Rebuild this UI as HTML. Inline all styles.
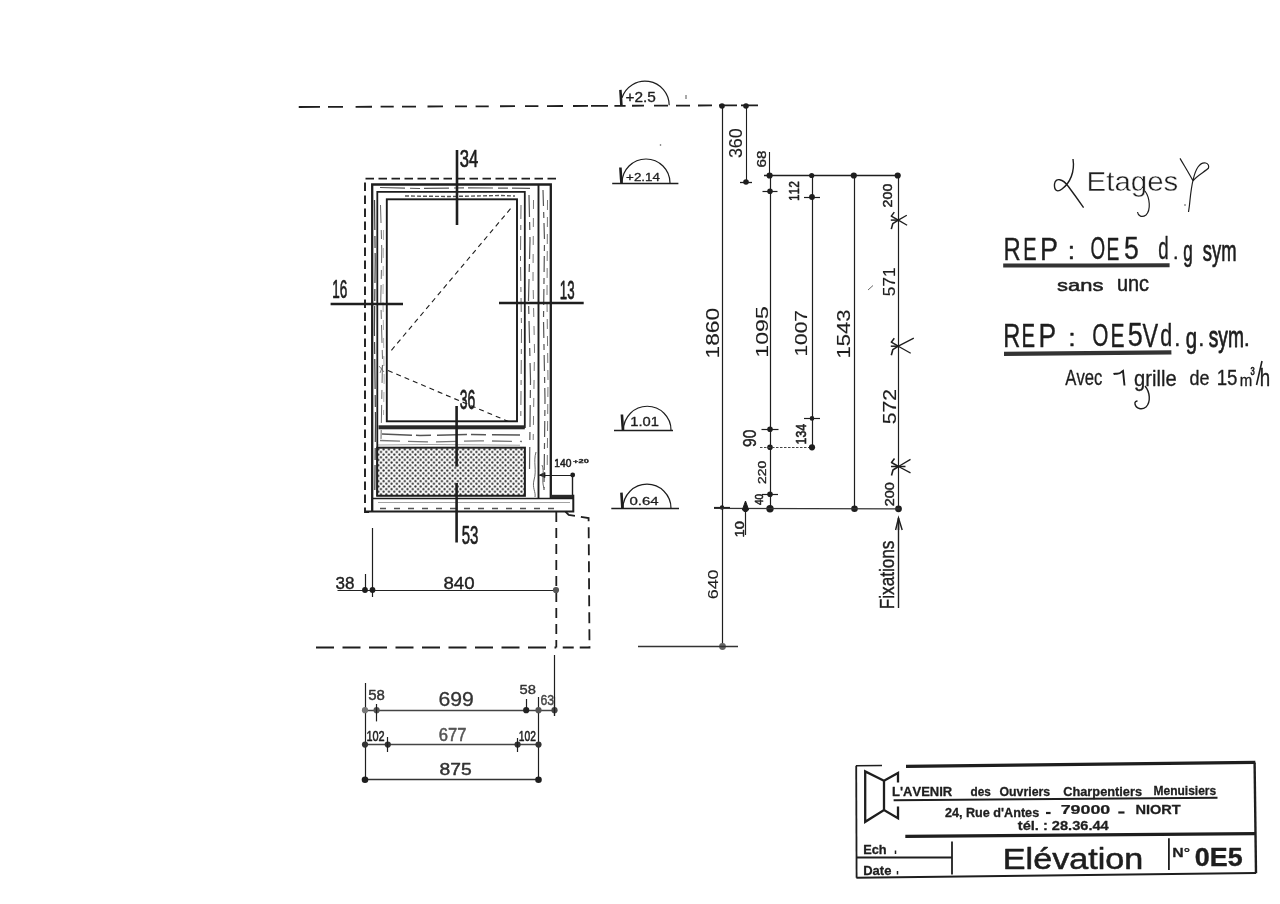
<!DOCTYPE html>
<html><head><meta charset="utf-8"><style>
html,body{margin:0;padding:0;background:#fff;overflow:hidden;}
svg{display:block;}
text{font-kerning:none;}
</style></head><body>
<svg width="1280" height="904" viewBox="0 0 1280 904">
<rect width="1280" height="904" fill="#fff"/>
<g style="opacity:0.999">
<path d="M298.75,107.00 L320,106.92 M328,106.89 L343,106.84 M355.6,106.79 L372,106.73 M380.6,106.70 L393.75,106.65 M402,106.62 L416,106.57 M427.5,106.52 L443,106.47 M455,106.42 L467,106.38 M475.6,106.34 L488.75,106.30 M500,106.25 L515,106.20 M525,106.16 L538.4,106.11 M547,106.08 L563,106.02 M573,105.98 L588,105.93 M591,105.92 L608,105.85 M614.4,105.83 L625.6,105.79 M632,105.76 L644,105.72 M654,105.68 L668,105.63 M676,105.60 L690,105.55 M698,105.52 L712,105.47 M719,105.44 L737,105.37 M741,105.36 L758,105.30 " stroke="#1e1e1e" stroke-width="1.8" fill="none" />
<path d="M620.4,89.8 L621.4,105.3" stroke="#1e1e1e" stroke-width="2.6" fill="none" />
<path d="M622.00,97.77 A24.2,24.2 0 0 1 669.2,105.3" stroke="#1e1e1e" stroke-width="1.2" fill="none" />
<text transform="translate(625.42,102.09) scale(0.1543,0.1377)" font-family="Liberation Sans" font-size="100" font-weight="normal" fill="#1e1e1e" stroke="#1e1e1e" stroke-width="0.35" vector-effect="non-scaling-stroke" stroke-linejoin="round">+2.5</text>
<line x1="612.2" y1="183.5" x2="678.4" y2="183.5" stroke="#1e1e1e" stroke-width="1.4" />
<path d="M620.4,167.5 L621.4,183" stroke="#1e1e1e" stroke-width="2.6" fill="none" />
<path d="M622.00,183.00 A24,24 0 0 1 670,183" stroke="#1e1e1e" stroke-width="1.2" fill="none" />
<text transform="translate(626.12,180.62) scale(0.1336,0.1182)" font-family="Liberation Sans" font-size="100" font-weight="normal" fill="#1e1e1e" stroke="#1e1e1e" stroke-width="0.35" vector-effect="non-scaling-stroke" stroke-linejoin="round">+2.14</text>
<line x1="614" y1="430.5" x2="673" y2="430.5" stroke="#1e1e1e" stroke-width="1.4" />
<path d="M621.9,414.5 L622.9,430" stroke="#1e1e1e" stroke-width="2.6" fill="none" />
<path d="M623.50,430.00 A23.5,23.5 0 0 1 671.0,430" stroke="#1e1e1e" stroke-width="1.2" fill="none" />
<text transform="translate(630.25,425.69) scale(0.1474,0.1363)" font-family="Liberation Sans" font-size="100" font-weight="normal" fill="#1e1e1e" stroke="#1e1e1e" stroke-width="0.35" vector-effect="non-scaling-stroke" stroke-linejoin="round">1.01</text>
<line x1="611.3" y1="508.5" x2="679" y2="508.5" stroke="#1e1e1e" stroke-width="1.4" />
<path d="M621.4,492.7 L622.4,508.2" stroke="#1e1e1e" stroke-width="2.6" fill="none" />
<path d="M623.00,508.20 A24,24 0 0 1 671,508.2" stroke="#1e1e1e" stroke-width="1.2" fill="none" />
<text transform="translate(629.49,504.71) scale(0.1499,0.1179)" font-family="Liberation Sans" font-size="100" font-weight="normal" fill="#1e1e1e" stroke="#1e1e1e" stroke-width="0.35" vector-effect="non-scaling-stroke" stroke-linejoin="round">0.64</text>
<line x1="722.5" y1="106" x2="722.5" y2="646" stroke="#1e1e1e" stroke-width="1.2" />
<circle cx="722" cy="106" r="2.8" fill="#1e1e1e"/>
<line x1="714" y1="507.5" x2="730" y2="507.5" stroke="#1e1e1e" stroke-width="1.2" />
<circle cx="722" cy="507.5" r="2.2" fill="#1e1e1e"/>
<circle cx="722.5" cy="646.5" r="3.4" fill="#666"/>
<line x1="638" y1="646.5" x2="738" y2="646.5" stroke="#333" stroke-width="1.3" />
<text transform="translate(718.75,358.46) rotate(-90) scale(0.2273,0.1815)" font-family="Liberation Sans" font-size="100" font-weight="normal" fill="#1e1e1e" stroke="#1e1e1e" stroke-width="0.15" vector-effect="non-scaling-stroke" stroke-linejoin="round">1860</text>
<text transform="translate(718.39,599.34) rotate(-90) scale(0.1796,0.1419)" font-family="Liberation Sans" font-size="100" font-weight="normal" fill="#1e1e1e" stroke="#1e1e1e" stroke-width="0.15" vector-effect="non-scaling-stroke" stroke-linejoin="round">640</text>
<line x1="746.5" y1="106" x2="746.5" y2="182" stroke="#1e1e1e" stroke-width="1.1" />
<circle cx="746" cy="106" r="2.8" fill="#1e1e1e"/>
<circle cx="746" cy="182" r="2.8" fill="#1e1e1e"/>
<line x1="740" y1="182.5" x2="752" y2="182.5" stroke="#1e1e1e" stroke-width="1.3" />
<text transform="translate(742.25,158.11) rotate(-90) scale(0.1797,0.1744)" font-family="Liberation Sans" font-size="100" font-weight="normal" fill="#1e1e1e" stroke="#1e1e1e" stroke-width="0.15" vector-effect="non-scaling-stroke" stroke-linejoin="round">360</text>
<line x1="764" y1="175.5" x2="900" y2="175.5" stroke="#1e1e1e" stroke-width="1.3" />
<circle cx="769.6" cy="175.5" r="3.1" fill="#1e1e1e"/>
<circle cx="853.8" cy="175.5" r="3.1" fill="#1e1e1e"/>
<circle cx="897.7" cy="175.5" r="3.1" fill="#1e1e1e"/>
<circle cx="811.7" cy="175.5" r="2.6" fill="#1e1e1e"/>
<line x1="769.5" y1="152" x2="769.5" y2="175.5" stroke="#1e1e1e" stroke-width="1.1" />
<text transform="translate(766.08,167.58) rotate(-90) scale(0.1532,0.1271)" font-family="Liberation Sans" font-size="100" font-weight="normal" fill="#1e1e1e" stroke="#1e1e1e" stroke-width="0.4" vector-effect="non-scaling-stroke" stroke-linejoin="round">68</text>
<line x1="770.5" y1="175.5" x2="770.5" y2="508.8" stroke="#1e1e1e" stroke-width="1.2" />
<line x1="762.5" y1="191.5" x2="777.5" y2="191.5" stroke="#1e1e1e" stroke-width="1.2" />
<circle cx="770" cy="191.3" r="2.8" fill="#1e1e1e"/>
<line x1="761.5" y1="429.5" x2="778.5" y2="429.5" stroke="#1e1e1e" stroke-width="1.2" />
<circle cx="770" cy="429.2" r="2.8" fill="#1e1e1e"/>
<line x1="762" y1="494.5" x2="778" y2="494.5" stroke="#1e1e1e" stroke-width="1.2" />
<circle cx="770" cy="494.2" r="2.8" fill="#1e1e1e"/>
<circle cx="770" cy="447.3" r="2.8" fill="#1e1e1e"/>
<circle cx="770" cy="508.8" r="3.7" fill="#1e1e1e"/>
<line x1="760" y1="447.5" x2="812" y2="447.5" stroke="#444" stroke-width="1.0" stroke-dasharray="2.5 1.5" />
<text transform="translate(767.76,357.69) rotate(-90) scale(0.2319,0.1674)" font-family="Liberation Sans" font-size="100" font-weight="normal" fill="#1e1e1e" stroke="#1e1e1e" stroke-width="0.15" vector-effect="non-scaling-stroke" stroke-linejoin="round">1095</text>
<text transform="translate(755.63,446.93) rotate(-90) scale(0.1559,0.1780)" font-family="Liberation Sans" font-size="100" font-weight="normal" fill="#1e1e1e" stroke="#1e1e1e" stroke-width="0.4" vector-effect="non-scaling-stroke" stroke-linejoin="round">90</text>
<text transform="translate(765.89,483.90) rotate(-90) scale(0.1393,0.1158)" font-family="Liberation Sans" font-size="100" font-weight="normal" fill="#1e1e1e" stroke="#1e1e1e" stroke-width="0.4" vector-effect="non-scaling-stroke" stroke-linejoin="round">220</text>
<text transform="translate(762.59,504.93) rotate(-90) scale(0.0990,0.1116)" font-family="Liberation Sans" font-size="100" font-weight="normal" fill="#1e1e1e" stroke="#1e1e1e" stroke-width="0.6" vector-effect="non-scaling-stroke" stroke-linejoin="round">40</text>
<line x1="812.5" y1="175.5" x2="812.5" y2="447.3" stroke="#1e1e1e" stroke-width="1.2" />
<line x1="804" y1="197.5" x2="820" y2="197.5" stroke="#1e1e1e" stroke-width="1.2" />
<circle cx="812" cy="197" r="2.9" fill="#1e1e1e"/>
<line x1="804" y1="418.5" x2="820" y2="418.5" stroke="#1e1e1e" stroke-width="1.2" />
<circle cx="812" cy="418.4" r="2.3" fill="#1e1e1e"/>
<circle cx="812" cy="447.3" r="3.1" fill="#1e1e1e"/>
<text transform="translate(799.45,201.06) rotate(-90) scale(0.1193,0.1404)" font-family="Liberation Sans" font-size="100" font-weight="normal" fill="#1e1e1e" stroke="#1e1e1e" stroke-width="0.5" vector-effect="non-scaling-stroke" stroke-linejoin="round">112</text>
<text transform="translate(807.17,356.52) rotate(-90) scale(0.2090,0.1589)" font-family="Liberation Sans" font-size="100" font-weight="normal" fill="#1e1e1e" stroke="#1e1e1e" stroke-width="0.15" vector-effect="non-scaling-stroke" stroke-linejoin="round">1007</text>
<text transform="translate(806.16,444.44) rotate(-90) scale(0.1228,0.1412)" font-family="Liberation Sans" font-size="100" font-weight="normal" fill="#1e1e1e" stroke="#1e1e1e" stroke-width="0.6" vector-effect="non-scaling-stroke" stroke-linejoin="round">134</text>
<line x1="854.5" y1="175.5" x2="854.5" y2="508.8" stroke="#1e1e1e" stroke-width="1.2" />
<circle cx="854.5" cy="508.8" r="3.3" fill="#1e1e1e"/>
<text transform="translate(850.14,358.40) rotate(-90) scale(0.2198,0.1928)" font-family="Liberation Sans" font-size="100" font-weight="normal" fill="#1e1e1e" stroke="#1e1e1e" stroke-width="0.15" vector-effect="non-scaling-stroke" stroke-linejoin="round">1543</text>
<line x1="898.5" y1="175.5" x2="898.5" y2="508.8" stroke="#1e1e1e" stroke-width="1.2" />
<circle cx="898.5" cy="508.8" r="3.4" fill="#1e1e1e"/>
<path d="M898.3,220.1 L906.8,215.29999999999998 M898.3,220.1 L907.0999999999999,225.2" stroke="#1e1e1e" stroke-width="1.3" fill="none" />
<path d="M890.8,220.1 L898.3,220.1" stroke="#1e1e1e" stroke-width="1.5" fill="none" />
<path d="M898.3,220.1 L891.3,216.1 L894.3,212.1" stroke="#1e1e1e" stroke-width="1.5" fill="none" stroke-linejoin="round"/>
<path d="M898.3,220.1 L892.8,223.6 L891.3,229.1" stroke="#1e1e1e" stroke-width="1.6" fill="none" stroke-linejoin="round"/>
<path d="M898.3,346.2 L913.8,338.2 M898.3,346.2 L910.6999999999999,353.3" stroke="#1e1e1e" stroke-width="1.3" fill="none" />
<path d="M890.8,346.2 L898.3,346.2" stroke="#1e1e1e" stroke-width="1.5" fill="none" />
<path d="M898.3,346.2 L891.3,342.2 L894.3,338.2" stroke="#1e1e1e" stroke-width="1.5" fill="none" stroke-linejoin="round"/>
<path d="M898.3,346.2 L892.8,349.7 L891.3,355.2" stroke="#1e1e1e" stroke-width="1.6" fill="none" stroke-linejoin="round"/>
<path d="M898.5,466.5 L910.5,459.4 M898.5,466.5 L910.5,472.9" stroke="#1e1e1e" stroke-width="1.3" fill="none" />
<path d="M891.0,466.5 L905.5,466.5" stroke="#1e1e1e" stroke-width="1.5" fill="none" />
<path d="M898.5,466.5 L891.5,462.5 L894.5,458.5" stroke="#1e1e1e" stroke-width="1.5" fill="none" stroke-linejoin="round"/>
<path d="M898.5,466.5 L893.0,470.0 L891.5,475.5" stroke="#1e1e1e" stroke-width="1.6" fill="none" stroke-linejoin="round"/>
<text transform="translate(892.13,207.47) rotate(-90) scale(0.1425,0.1271)" font-family="Liberation Sans" font-size="100" font-weight="normal" fill="#1e1e1e" stroke="#1e1e1e" stroke-width="0.5" vector-effect="non-scaling-stroke" stroke-linejoin="round">200</text>
<text transform="translate(894.76,296.32) rotate(-90) scale(0.1744,0.1698)" font-family="Liberation Sans" font-size="100" font-weight="normal" fill="#1e1e1e" stroke="#1e1e1e" stroke-width="0.15" vector-effect="non-scaling-stroke" stroke-linejoin="round">571</text>
<text transform="translate(896.14,424.17) rotate(-90) scale(0.2107,0.1871)" font-family="Liberation Sans" font-size="100" font-weight="normal" fill="#1e1e1e" stroke="#1e1e1e" stroke-width="0.15" vector-effect="non-scaling-stroke" stroke-linejoin="round">572</text>
<text transform="translate(893.83,506.17) rotate(-90) scale(0.1438,0.1257)" font-family="Liberation Sans" font-size="100" font-weight="normal" fill="#1e1e1e" stroke="#1e1e1e" stroke-width="0.5" vector-effect="non-scaling-stroke" stroke-linejoin="round">200</text>
<line x1="714" y1="508.3" x2="900" y2="508.8" stroke="#333" stroke-width="1.3" />
<path d="M745.5,501 L742.3,510 L748.7,510 Z" stroke="#1e1e1e" stroke-width="1" fill="#1e1e1e" />
<circle cx="745.5" cy="509.5" r="2.6" fill="#1e1e1e"/>
<line x1="745.5" y1="509" x2="745.5" y2="535" stroke="#1e1e1e" stroke-width="1.2" />
<text transform="translate(743.63,537.48) rotate(-90) scale(0.1484,0.1229)" font-family="Liberation Sans" font-size="100" font-weight="normal" fill="#1e1e1e" stroke="#1e1e1e" stroke-width="0.5" vector-effect="non-scaling-stroke" stroke-linejoin="round">10</text>
<line x1="898.5" y1="522" x2="898.5" y2="608" stroke="#1e1e1e" stroke-width="1.4" />
<path d="M895.6,530 L898.5,518 L902.2,530" stroke="#1e1e1e" stroke-width="1.4" fill="none" />
<line x1="898.5" y1="518" x2="898.5" y2="530" stroke="#1e1e1e" stroke-width="1.6" />
<text transform="translate(894.10,609.21) rotate(-90) scale(0.1715,0.2029)" font-family="Liberation Sans" font-size="100" font-weight="normal" fill="#1e1e1e" stroke="#1e1e1e" stroke-width="0.4" vector-effect="non-scaling-stroke" stroke-linejoin="round">Fixations</text>
<path d="M686,95 L686,99" stroke="#555" stroke-width="1.0" fill="none" />
<circle cx="660.5" cy="145" r="0.8" fill="#555"/>
<path d="M868,290 L873,285.5" stroke="#666" stroke-width="1.0" fill="none" />
<circle cx="1185" cy="205" r="0.8" fill="#444"/>
<path d="M556,178.6 L365,178.6 L365,512 L372,512" stroke="#1e1e1e" stroke-width="1.9" fill="none" stroke-dasharray="8.5 4.5"/>
<path d="M374.5,200 L375.2,260 L374.4,330 L375.5,420 L374.8,490" stroke="#444" stroke-width="1.2" fill="none" stroke-dasharray="30 6 12 5"/>
<path d="M380.5,205 L381.8,250 L380.8,300 L382.5,360 L381,440" stroke="#666" stroke-width="1.0" fill="none" stroke-dasharray="18 7 9 6"/>
<path d="M383.5,230 L383,300 L384.2,380 L383.5,415" stroke="#999" stroke-width="0.8" fill="none" stroke-dasharray="10 8"/>
<path d="M380,187.5 L420,188.5 L470,187.8 L530,188.3" stroke="#555" stroke-width="1.2" fill="none" stroke-dasharray="25 5 10 4"/>
<path d="M405,196 L450,196.5 L500,195.5 L515,196" stroke="#555" stroke-width="1.4" fill="none" stroke-dasharray="4 2"/>
<path d="M521,205 L520.5,260 L521.5,330 L520.8,420" stroke="#666" stroke-width="1.0" fill="none" stroke-dasharray="14 6 5 6"/>
<path d="M529,195 L530,240 L528.5,300 L530.5,380 L529.5,470" stroke="#555" stroke-width="1.2" fill="none" stroke-dasharray="22 5 8 7"/>
<path d="M533.5,200 L533,280 L534.5,350 L533.2,440" stroke="#777" stroke-width="1.0" fill="none" stroke-dasharray="9 9"/>
<path d="M543,190 L544.5,240 L543.5,320 L545,400 L544,490" stroke="#555" stroke-width="1.2" fill="none" stroke-dasharray="16 6 6 5"/>
<path d="M547.5,200 L547,300 L548,380 L547.2,470" stroke="#777" stroke-width="1.0" fill="none" stroke-dasharray="10 7"/>
<path d="M382,434 L420,435.5 L470,434.5 L520,435" stroke="#555" stroke-width="1.5" fill="none" stroke-dasharray="30 4 15 6"/>
<path d="M380,440.5 L430,442 L480,440.8 L522,441.5" stroke="#777" stroke-width="1.3" fill="none" stroke-dasharray="20 8"/>
<path d="M378,445 L430,444.5 L520,445.2" stroke="#999" stroke-width="0.9" fill="none" />
<path d="M372.2,511.5 L372.2,184.5 L550.8,184.5 L550.8,499" stroke="#1e1e1e" stroke-width="2.3" fill="none" />
<path d="M377.3,496 L377.3,191.8 L524.8,191.8 L524.8,428" stroke="#1e1e1e" stroke-width="1.8" fill="none" />
<line x1="538.5" y1="184.5" x2="538.5" y2="499" stroke="#1e1e1e" stroke-width="1.9" />
<rect x="386.8" y="199.3" width="130.2" height="222" fill="none" stroke="#1a1a1a" stroke-width="1.9"/>
<rect x="378.5" y="425.3" width="146.3" height="4" fill="#2a2a2a"/>
<defs><pattern id="hp" x="377" y="448" width="5.3" height="5.3" patternUnits="userSpaceOnUse"><rect width="5.3" height="5.3" fill="#fafafa"/><circle cx="1.33" cy="1.33" r="1.1" fill="#262626"/><circle cx="3.98" cy="3.98" r="1.1" fill="#262626"/></pattern></defs>
<rect x="377.2" y="447.7" width="147.7" height="48.1" fill="url(#hp)" stroke="#1e1e1e" stroke-width="2.0"/>
<rect x="551" y="494.8" width="22.3" height="3.6" fill="#2a2a2a"/>
<line x1="372" y1="498.5" x2="573.3" y2="498.5" stroke="#1e1e1e" stroke-width="1.6" />
<line x1="378" y1="502.5" x2="570" y2="502.5" stroke="#999" stroke-width="0.9" />
<line x1="380" y1="508.5" x2="560" y2="508.5" stroke="#555" stroke-width="1.6" stroke-dasharray="6 8" />
<path d="M573.3,494.8 L573.3,511.5 L365,511.5" stroke="#1e1e1e" stroke-width="2.0" fill="none" />
<line x1="510.5" y1="208.7" x2="390.8" y2="351" stroke="#1e1e1e" stroke-width="1.1" stroke-dasharray="5 4" />
<line x1="388" y1="370.6" x2="512" y2="423" stroke="#1e1e1e" stroke-width="1.1" stroke-dasharray="5 4" />
<path d="M379,366 L384,372 M383,365 L380,373" stroke="#666" stroke-width="0.8" fill="none" />
<line x1="457" y1="150" x2="457" y2="225" stroke="#1e1e1e" stroke-width="2.6" />
<line x1="330.6" y1="304" x2="403" y2="304" stroke="#1e1e1e" stroke-width="2.7" />
<line x1="499" y1="303" x2="583.7" y2="303" stroke="#1e1e1e" stroke-width="2.7" />
<line x1="456.6" y1="406" x2="456.6" y2="466.6" stroke="#1e1e1e" stroke-width="2.6" />
<line x1="456.6" y1="483" x2="456.6" y2="542.5" stroke="#1e1e1e" stroke-width="2.6" />
<text transform="translate(459.67,166.97) scale(0.1665,0.2387)" font-family="Liberation Sans" font-size="100" font-weight="normal" fill="#1e1e1e" stroke="#1e1e1e" stroke-width="0.6" vector-effect="non-scaling-stroke" stroke-linejoin="round">34</text>
<text transform="translate(332.27,298.06) scale(0.1351,0.2486)" font-family="Liberation Sans" font-size="100" font-weight="normal" fill="#1e1e1e" stroke="#1e1e1e" stroke-width="0.6" vector-effect="non-scaling-stroke" stroke-linejoin="round">16</text>
<text transform="translate(559.79,299.45) scale(0.1330,0.2599)" font-family="Liberation Sans" font-size="100" font-weight="normal" fill="#1e1e1e" stroke="#1e1e1e" stroke-width="0.6" vector-effect="non-scaling-stroke" stroke-linejoin="round">13</text>
<text transform="translate(459.77,408.83) scale(0.1398,0.2797)" font-family="Liberation Sans" font-size="100" font-weight="normal" fill="#1e1e1e" stroke="#1e1e1e" stroke-width="0.6" vector-effect="non-scaling-stroke" stroke-linejoin="round">36</text>
<text transform="translate(461.70,543.85) scale(0.1498,0.2571)" font-family="Liberation Sans" font-size="100" font-weight="normal" fill="#1e1e1e" stroke="#1e1e1e" stroke-width="0.6" vector-effect="non-scaling-stroke" stroke-linejoin="round">53</text>
<text transform="translate(554.27,467.35) scale(0.1030,0.1045)" font-family="Liberation Sans" font-size="100" font-weight="normal" fill="#1e1e1e" stroke="#1e1e1e" stroke-width="0.5" vector-effect="non-scaling-stroke" stroke-linejoin="round">140</text>
<text transform="translate(573.11,462.74) scale(0.0924,0.0593)" font-family="Liberation Sans" font-size="100" font-weight="bold" fill="#1e1e1e" stroke="#1e1e1e" stroke-width="0.4" vector-effect="non-scaling-stroke" stroke-linejoin="round">+20</text>
<line x1="539.5" y1="475.5" x2="572.7" y2="475.5" stroke="#1e1e1e" stroke-width="1.0" />
<path d="M539.5,475 L545,472.5 L545,477.5 Z" stroke="#1e1e1e" stroke-width="0.8" fill="#1e1e1e" />
<circle cx="572.7" cy="475" r="2.4" fill="#1e1e1e"/>
<line x1="572.5" y1="475" x2="572.5" y2="495" stroke="#1e1e1e" stroke-width="1.4" />
<path d="M536,452 C533,462 537,470 534,480 C532,488 536,492 535,497" stroke="#555" stroke-width="0.9" fill="none" />
<path d="M542,465 C545,472 541,480 544,488" stroke="#555" stroke-width="0.9" fill="none" />
<path d="M565.4,511.5 L568.7,514.8 L588.6,518.1 L589.5,647.5 L556.5,647.5" stroke="#1e1e1e" stroke-width="1.8" fill="none" stroke-dasharray="11 6"/>
<line x1="556.3" y1="512" x2="556.3" y2="647.5" stroke="#1e1e1e" stroke-width="1.8" stroke-dasharray="10 6" />
<line x1="316" y1="647.5" x2="556" y2="647.5" stroke="#1e1e1e" stroke-width="1.8" stroke-dasharray="18 8.5" />
<line x1="554.5" y1="655" x2="554.5" y2="716" stroke="#1e1e1e" stroke-width="1.2" />
<line x1="372.5" y1="528" x2="372.5" y2="597" stroke="#1e1e1e" stroke-width="1.2" />
<line x1="365.5" y1="574" x2="365.5" y2="590" stroke="#1e1e1e" stroke-width="1.2" />
<line x1="337.5" y1="590.5" x2="556" y2="590.5" stroke="#222" stroke-width="1.1" />
<circle cx="365" cy="590" r="2.9" fill="#1e1e1e"/>
<circle cx="372.5" cy="590" r="2.9" fill="#1e1e1e"/>
<circle cx="556" cy="590" r="3.1" fill="#555"/>
<text transform="translate(335.55,588.63) scale(0.1707,0.1709)" font-family="Liberation Sans" font-size="100" font-weight="normal" fill="#1e1e1e" stroke="#1e1e1e" stroke-width="0.4" vector-effect="non-scaling-stroke" stroke-linejoin="round">38</text>
<text transform="translate(443.39,588.63) scale(0.1866,0.1709)" font-family="Liberation Sans" font-size="100" font-weight="normal" fill="#1e1e1e" stroke="#1e1e1e" stroke-width="0.4" vector-effect="non-scaling-stroke" stroke-linejoin="round">840</text>
<line x1="365.5" y1="683" x2="365.5" y2="781" stroke="#1e1e1e" stroke-width="1.2" />
<line x1="538.5" y1="697" x2="538.5" y2="781" stroke="#1e1e1e" stroke-width="1.2" />
<line x1="365" y1="710.5" x2="554.5" y2="710.5" stroke="#444" stroke-width="1.3" />
<circle cx="365" cy="710.2" r="3.1" fill="#777"/>
<circle cx="376.6" cy="710.2" r="3.1" fill="#555"/>
<circle cx="526.2" cy="710.2" r="3.1" fill="#222"/>
<circle cx="538.5" cy="710.2" r="3.1" fill="#555"/>
<circle cx="554.5" cy="710.2" r="3.1" fill="#444"/>
<line x1="376.5" y1="704" x2="376.5" y2="721.4" stroke="#1e1e1e" stroke-width="1.2" />
<line x1="526.5" y1="699" x2="526.5" y2="710" stroke="#1e1e1e" stroke-width="1.2" />
<line x1="554.5" y1="697" x2="554.5" y2="716" stroke="#1e1e1e" stroke-width="1.2" />
<text transform="translate(368.20,699.66) scale(0.1497,0.1412)" font-family="Liberation Sans" font-size="100" font-weight="normal" fill="#333" stroke="#333" stroke-width="0.4" vector-effect="non-scaling-stroke" stroke-linejoin="round">58</text>
<text transform="translate(438.47,705.65) scale(0.2121,0.2034)" font-family="Liberation Sans" font-size="100" font-weight="normal" fill="#333" stroke="#333" stroke-width="0.3" vector-effect="non-scaling-stroke" stroke-linejoin="round">699</text>
<text transform="translate(519.61,693.67) scale(0.1477,0.1285)" font-family="Liberation Sans" font-size="100" font-weight="normal" fill="#333" stroke="#333" stroke-width="0.4" vector-effect="non-scaling-stroke" stroke-linejoin="round">58</text>
<text transform="translate(540.38,704.65) scale(0.1228,0.1497)" font-family="Liberation Sans" font-size="100" font-weight="normal" fill="#444" stroke="#444" stroke-width="0.4" vector-effect="non-scaling-stroke" stroke-linejoin="round">63</text>
<line x1="365" y1="744.5" x2="538.5" y2="744.5" stroke="#444" stroke-width="1.3" />
<circle cx="365" cy="744.6" r="3.1" fill="#333"/>
<circle cx="387.8" cy="744.6" r="3.1" fill="#333"/>
<circle cx="517.6" cy="744.6" r="3.1" fill="#333"/>
<circle cx="538.5" cy="744.6" r="3.1" fill="#333"/>
<line x1="387.5" y1="737" x2="387.5" y2="752" stroke="#1e1e1e" stroke-width="1.2" />
<line x1="517.5" y1="738" x2="517.5" y2="752" stroke="#1e1e1e" stroke-width="1.2" />
<text transform="translate(366.42,740.61) scale(0.1096,0.1483)" font-family="Liberation Sans" font-size="100" font-weight="normal" fill="#1e1e1e" stroke="#1e1e1e" stroke-width="0.5" vector-effect="non-scaling-stroke" stroke-linejoin="round">102</text>
<text transform="translate(438.80,740.78) scale(0.1665,0.1751)" font-family="Liberation Sans" font-size="100" font-weight="normal" fill="#555" stroke="#555" stroke-width="0.5" vector-effect="non-scaling-stroke" stroke-linejoin="round">677</text>
<text transform="translate(518.77,740.61) scale(0.1025,0.1483)" font-family="Liberation Sans" font-size="100" font-weight="normal" fill="#1e1e1e" stroke="#1e1e1e" stroke-width="0.5" vector-effect="non-scaling-stroke" stroke-linejoin="round">102</text>
<line x1="365" y1="779.5" x2="538.5" y2="779.5" stroke="#333" stroke-width="1.3" />
<circle cx="365" cy="779.8" r="3.3" fill="#1e1e1e"/>
<circle cx="538.5" cy="779.8" r="3.3" fill="#1e1e1e"/>
<text transform="translate(439.61,775.08) scale(0.1927,0.1737)" font-family="Liberation Sans" font-size="100" font-weight="normal" fill="#333" stroke="#333" stroke-width="0.5" vector-effect="non-scaling-stroke" stroke-linejoin="round">875</text>
<path d="M1073,159 C1075,172 1070,183 1062,189 C1057,193 1054,190 1054.5,184 C1055.5,177 1063,179 1068,186 C1074,194 1079,201 1083.6,207.7" stroke="#1e1e1e" stroke-width="1.4" fill="none" />
<text transform="translate(1086.56,190.80) scale(0.2946,0.2794)" font-family="Liberation Sans" font-size="100" font-weight="normal" fill="#1e1e1e" stroke="#fff" stroke-width="0.45" vector-effect="non-scaling-stroke" stroke-linejoin="round">Etages</text>
<path d="M1145,191 C1150,198 1151,210 1146,215 C1142,218 1138,216 1137.5,212" stroke="#1e1e1e" stroke-width="1.2" fill="none" />
<path d="M1180,158.4 C1185,167 1190,175 1193,181 C1196,176 1206,171 1208.5,168 C1210,163 1203,160 1198,167 C1193,174 1191,190 1190,200 C1189.5,206 1189,209 1188.5,212" stroke="#1e1e1e" stroke-width="1.2" fill="none" />
<text transform="translate(1003.42,259.52) scale(0.2383,0.3176)" font-family="Liberation Sans" font-size="100" font-weight="normal" fill="#1e1e1e" stroke="#1e1e1e" stroke-width="0.35" vector-effect="non-scaling-stroke" stroke-linejoin="round">R</text>
<text transform="translate(1023.33,259.52) scale(0.2002,0.3176)" font-family="Liberation Sans" font-size="100" font-weight="normal" fill="#1e1e1e" stroke="#1e1e1e" stroke-width="0.35" vector-effect="non-scaling-stroke" stroke-linejoin="round">E</text>
<text transform="translate(1039.96,259.52) scale(0.2696,0.3176)" font-family="Liberation Sans" font-size="100" font-weight="normal" fill="#1e1e1e" stroke="#1e1e1e" stroke-width="0.35" vector-effect="non-scaling-stroke" stroke-linejoin="round">P</text>
<text transform="translate(1090.54,259.22) scale(0.1875,0.3086)" font-family="Liberation Sans" font-size="100" font-weight="normal" fill="#1e1e1e" stroke="#1e1e1e" stroke-width="0.35" vector-effect="non-scaling-stroke" stroke-linejoin="round">O</text>
<text transform="translate(1106.60,259.52) scale(0.1919,0.3176)" font-family="Liberation Sans" font-size="100" font-weight="normal" fill="#1e1e1e" stroke="#1e1e1e" stroke-width="0.35" vector-effect="non-scaling-stroke" stroke-linejoin="round">E</text>
<text transform="translate(1124.11,259.22) scale(0.2668,0.3131)" font-family="Liberation Sans" font-size="100" font-weight="normal" fill="#1e1e1e" stroke="#1e1e1e" stroke-width="0.35" vector-effect="non-scaling-stroke" stroke-linejoin="round">5</text>
<text transform="translate(1067.85,259.25) scale(0.2626,0.2366)" font-family="Liberation Sans" font-size="100" font-weight="normal" fill="#1e1e1e" stroke="#1e1e1e" stroke-width="0.5" vector-effect="non-scaling-stroke" stroke-linejoin="round">:</text>
<text transform="translate(1158.14,259.22) scale(0.1868,0.3146)" font-family="Liberation Sans" font-size="100" font-weight="normal" fill="#1e1e1e" stroke="#1e1e1e" stroke-width="0.35" vector-effect="non-scaling-stroke" stroke-linejoin="round">d</text>
<line x1="1003.2" y1="265.6" x2="1169.6" y2="265.2" stroke="#333" stroke-width="4.0" />
<text transform="translate(1172.88,259.30) scale(0.1995,0.1964)" font-family="Liberation Sans" font-size="100" font-weight="normal" fill="#1e1e1e" stroke="#1e1e1e" stroke-width="0.4" vector-effect="non-scaling-stroke" stroke-linejoin="round">.</text>
<text transform="translate(1183.34,261.26) scale(0.1701,0.2862)" font-family="Liberation Sans" font-size="100" font-weight="normal" fill="#1e1e1e" stroke="#1e1e1e" stroke-width="0.6" vector-effect="non-scaling-stroke" stroke-linejoin="round">g</text>
<text transform="translate(1202.79,261.10) scale(0.1840,0.2937)" font-family="Liberation Sans" font-size="100" font-weight="normal" fill="#1e1e1e" stroke="#1e1e1e" stroke-width="0.6" vector-effect="non-scaling-stroke" stroke-linejoin="round">sym</text>
<text transform="translate(1056.99,291.03) scale(0.2197,0.1716)" font-family="Liberation Sans" font-size="100" font-weight="normal" fill="#1e1e1e" stroke="#1e1e1e" stroke-width="0.6" vector-effect="non-scaling-stroke" stroke-linejoin="round">sans</text>
<text transform="translate(1116.96,291.04) scale(0.1992,0.2190)" font-family="Liberation Sans" font-size="100" font-weight="normal" fill="#1e1e1e" stroke="#1e1e1e" stroke-width="0.5" vector-effect="non-scaling-stroke" stroke-linejoin="round">unc</text>
<text transform="translate(1003.23,346.57) scale(0.2366,0.3314)" font-family="Liberation Sans" font-size="100" font-weight="normal" fill="#1e1e1e" stroke="#1e1e1e" stroke-width="0.35" vector-effect="non-scaling-stroke" stroke-linejoin="round">R</text>
<text transform="translate(1021.50,346.57) scale(0.2039,0.3314)" font-family="Liberation Sans" font-size="100" font-weight="normal" fill="#1e1e1e" stroke="#1e1e1e" stroke-width="0.35" vector-effect="non-scaling-stroke" stroke-linejoin="round">E</text>
<text transform="translate(1038.61,346.57) scale(0.2640,0.3314)" font-family="Liberation Sans" font-size="100" font-weight="normal" fill="#1e1e1e" stroke="#1e1e1e" stroke-width="0.35" vector-effect="non-scaling-stroke" stroke-linejoin="round">P</text>
<text transform="translate(1092.19,346.26) scale(0.2073,0.3220)" font-family="Liberation Sans" font-size="100" font-weight="normal" fill="#1e1e1e" stroke="#1e1e1e" stroke-width="0.35" vector-effect="non-scaling-stroke" stroke-linejoin="round">O</text>
<text transform="translate(1110.45,346.57) scale(0.2103,0.3314)" font-family="Liberation Sans" font-size="100" font-weight="normal" fill="#1e1e1e" stroke="#1e1e1e" stroke-width="0.35" vector-effect="non-scaling-stroke" stroke-linejoin="round">E</text>
<text transform="translate(1127.84,346.26) scale(0.2700,0.3268)" font-family="Liberation Sans" font-size="100" font-weight="normal" fill="#1e1e1e" stroke="#1e1e1e" stroke-width="0.35" vector-effect="non-scaling-stroke" stroke-linejoin="round">5</text>
<text transform="translate(1142.57,346.57) scale(0.2347,0.3314)" font-family="Liberation Sans" font-size="100" font-weight="normal" fill="#1e1e1e" stroke="#1e1e1e" stroke-width="0.35" vector-effect="non-scaling-stroke" stroke-linejoin="round">V</text>
<text transform="translate(1068.50,345.70) scale(0.2521,0.2347)" font-family="Liberation Sans" font-size="100" font-weight="normal" fill="#1e1e1e" stroke="#1e1e1e" stroke-width="0.6" vector-effect="non-scaling-stroke" stroke-linejoin="round">:</text>
<text transform="translate(1160.27,346.27) scale(0.2146,0.3105)" font-family="Liberation Sans" font-size="100" font-weight="normal" fill="#1e1e1e" stroke="#1e1e1e" stroke-width="0.35" vector-effect="non-scaling-stroke" stroke-linejoin="round">d</text>
<line x1="1004" y1="353.8" x2="1171.4" y2="352.4" stroke="#333" stroke-width="4.2" />
<text transform="translate(1174.19,346.30) scale(0.2206,0.2431)" font-family="Liberation Sans" font-size="100" font-weight="normal" fill="#1e1e1e" stroke="#1e1e1e" stroke-width="0.4" vector-effect="non-scaling-stroke" stroke-linejoin="round">.</text>
<text transform="translate(1185.84,347.73) scale(0.2046,0.2876)" font-family="Liberation Sans" font-size="100" font-weight="normal" fill="#1e1e1e" stroke="#1e1e1e" stroke-width="0.6" vector-effect="non-scaling-stroke" stroke-linejoin="round">g</text>
<text transform="translate(1198.19,346.30) scale(0.2206,0.2431)" font-family="Liberation Sans" font-size="100" font-weight="normal" fill="#1e1e1e" stroke="#1e1e1e" stroke-width="0.4" vector-effect="non-scaling-stroke" stroke-linejoin="round">.</text>
<text transform="translate(1208.72,347.44) scale(0.1920,0.2991)" font-family="Liberation Sans" font-size="100" font-weight="normal" fill="#1e1e1e" stroke="#1e1e1e" stroke-width="0.7" vector-effect="non-scaling-stroke" stroke-linejoin="round">sym</text>
<text transform="translate(1243.69,346.30) scale(0.2206,0.2431)" font-family="Liberation Sans" font-size="100" font-weight="normal" fill="#1e1e1e" stroke="#1e1e1e" stroke-width="0.4" vector-effect="non-scaling-stroke" stroke-linejoin="round">.</text>
<text transform="translate(1065.32,385.44) scale(0.1668,0.2121)" font-family="Liberation Sans" font-size="100" font-weight="normal" fill="#1e1e1e" stroke="#1e1e1e" stroke-width="0.3" vector-effect="non-scaling-stroke" stroke-linejoin="round">Avec</text>
<path d="M1113.5,374 C1116,373 1119,375 1121.5,372 L1123,371 L1124.5,385.5" stroke="#1e1e1e" stroke-width="1.9" fill="none" />
<text transform="translate(1134.10,385.80) scale(0.2019,0.2118)" font-family="Liberation Sans" font-size="100" font-weight="normal" fill="#1e1e1e" stroke="#1e1e1e" stroke-width="0.3" vector-effect="non-scaling-stroke" stroke-linejoin="round">grille</text>
<path d="M1145,386 C1150,392 1151,402 1146,407 C1142,410 1136,409 1135,404 C1134.5,402 1136,401 1137.5,401" stroke="#1e1e1e" stroke-width="1.4" fill="none" />
<text transform="translate(1189.39,385.46) scale(0.1798,0.1940)" font-family="Liberation Sans" font-size="100" font-weight="normal" fill="#1e1e1e" stroke="#1e1e1e" stroke-width="0.3" vector-effect="non-scaling-stroke" stroke-linejoin="round">de</text>
<text transform="translate(1216.72,385.43) scale(0.1871,0.2250)" font-family="Liberation Sans" font-size="100" font-weight="normal" fill="#1e1e1e" stroke="#1e1e1e" stroke-width="0.3" vector-effect="non-scaling-stroke" stroke-linejoin="round">15</text>
<text transform="translate(1239.75,385.65) scale(0.1499,0.1598)" font-family="Liberation Sans" font-size="100" font-weight="normal" fill="#1e1e1e" stroke="#1e1e1e" stroke-width="0.3" vector-effect="non-scaling-stroke" stroke-linejoin="round">m</text>
<text transform="translate(1250.51,374.59) scale(0.0759,0.1102)" font-family="Liberation Sans" font-size="100" font-weight="normal" fill="#1e1e1e" stroke="#1e1e1e" stroke-width="0.6" vector-effect="non-scaling-stroke" stroke-linejoin="round">3</text>
<line x1="1262" y1="361" x2="1256.5" y2="385" stroke="#1e1e1e" stroke-width="1.6" />
<text transform="translate(1259.85,385.65) scale(0.1873,0.2415)" font-family="Liberation Sans" font-size="100" font-weight="normal" fill="#1e1e1e" stroke="#1e1e1e" stroke-width="0.3" vector-effect="non-scaling-stroke" stroke-linejoin="round">h</text>
<line x1="856" y1="765.8" x2="882" y2="765.5" stroke="#1e1e1e" stroke-width="1.5" />
<line x1="906" y1="766.3" x2="1255.3" y2="762.4" stroke="#1e1e1e" stroke-width="3.2" />
<line x1="856.2" y1="765.8" x2="856.6" y2="877.7" stroke="#1e1e1e" stroke-width="1.8" />
<line x1="1254.6" y1="762.4" x2="1256" y2="873.2" stroke="#1e1e1e" stroke-width="2.4" />
<line x1="856.4" y1="877.7" x2="1256" y2="873.1" stroke="#1e1e1e" stroke-width="2.0" />
<path d="M898,782.5 L898,773 L884,780.8 L865.2,771.4 L865.2,821.8 L884,810 L898,818.3 L898,806.6" stroke="#1e1e1e" stroke-width="2.3" fill="none" stroke-linejoin="miter"/>
<line x1="884" y1="780.8" x2="884" y2="810" stroke="#1e1e1e" stroke-width="2.3" />
<text transform="translate(892.08,796.25) scale(0.1302,0.1206)" font-family="Liberation Sans" font-size="100" font-weight="bold" fill="#1e1e1e" stroke="#1e1e1e" stroke-width="0.3" vector-effect="non-scaling-stroke" stroke-linejoin="round">L'AVENIR</text>
<text transform="translate(970.57,796.13) scale(0.1176,0.1239)" font-family="Liberation Sans" font-size="100" font-weight="bold" fill="#1e1e1e" stroke="#1e1e1e" stroke-width="0.3" vector-effect="non-scaling-stroke" stroke-linejoin="round">des</text>
<text transform="translate(999.44,796.13) scale(0.1233,0.1239)" font-family="Liberation Sans" font-size="100" font-weight="bold" fill="#1e1e1e" stroke="#1e1e1e" stroke-width="0.3" vector-effect="non-scaling-stroke" stroke-linejoin="round">Ouvriers</text>
<text transform="translate(1063.23,795.60) scale(0.1278,0.1270)" font-family="Liberation Sans" font-size="100" font-weight="bold" fill="#1e1e1e" stroke="#1e1e1e" stroke-width="0.3" vector-effect="non-scaling-stroke" stroke-linejoin="round">Charpentiers</text>
<text transform="translate(1153.55,794.73) scale(0.1200,0.1253)" font-family="Liberation Sans" font-size="100" font-weight="bold" fill="#1e1e1e" stroke="#1e1e1e" stroke-width="0.3" vector-effect="non-scaling-stroke" stroke-linejoin="round">Menuisiers</text>
<line x1="893.6" y1="800.3" x2="1217.5" y2="797.8" stroke="#1e1e1e" stroke-width="1.9" />
<text transform="translate(944.91,816.70) scale(0.1265,0.1210)" font-family="Liberation Sans" font-size="100" font-weight="bold" fill="#1e1e1e" stroke="#1e1e1e" stroke-width="0.3" vector-effect="non-scaling-stroke" stroke-linejoin="round">24, Rue d'Antes</text>
<line x1="1046" y1="813" x2="1050.6" y2="813" stroke="#1e1e1e" stroke-width="2.2" />
<text transform="translate(1060.63,813.73) scale(0.1785,0.1229)" font-family="Liberation Sans" font-size="100" font-weight="bold" fill="#1e1e1e" stroke="#1e1e1e" stroke-width="0.3" vector-effect="non-scaling-stroke" stroke-linejoin="round">79000</text>
<line x1="1118.3" y1="812.5" x2="1124.5" y2="812.5" stroke="#1e1e1e" stroke-width="2.2" />
<text transform="translate(1135.42,813.72) scale(0.1459,0.1342)" font-family="Liberation Sans" font-size="100" font-weight="bold" fill="#1e1e1e" stroke="#1e1e1e" stroke-width="0.3" vector-effect="non-scaling-stroke" stroke-linejoin="round">NIORT</text>
<text transform="translate(1017.77,830.20) scale(0.1463,0.1318)" font-family="Liberation Sans" font-size="100" font-weight="bold" fill="#1e1e1e" stroke="#1e1e1e" stroke-width="0.3" vector-effect="non-scaling-stroke" stroke-linejoin="round">tél. : 28.36.44</text>
<line x1="905.3" y1="836.3" x2="1255" y2="833.6" stroke="#1e1e1e" stroke-width="3.2" />
<line x1="856" y1="857.5" x2="952" y2="857.5" stroke="#1e1e1e" stroke-width="1.8" />
<line x1="952" y1="841.6" x2="952" y2="874.4" stroke="#1e1e1e" stroke-width="1.8" />
<line x1="1168.9" y1="838.3" x2="1168.9" y2="870" stroke="#1e1e1e" stroke-width="1.8" />
<text transform="translate(863.19,853.93) scale(0.1279,0.1239)" font-family="Liberation Sans" font-size="100" font-weight="bold" fill="#1e1e1e" stroke="#1e1e1e" stroke-width="0.3" vector-effect="non-scaling-stroke" stroke-linejoin="round">Ech</text>
<line x1="895.5" y1="850.5" x2="895.5" y2="854" stroke="#1e1e1e" stroke-width="1.5" />
<text transform="translate(863.18,874.53) scale(0.1302,0.1218)" font-family="Liberation Sans" font-size="100" font-weight="bold" fill="#1e1e1e" stroke="#1e1e1e" stroke-width="0.3" vector-effect="non-scaling-stroke" stroke-linejoin="round">Date</text>
<line x1="897.5" y1="871" x2="897.5" y2="874.5" stroke="#1e1e1e" stroke-width="1.5" />
<text transform="translate(1002.80,868.90) scale(0.3416,0.2951)" font-family="Liberation Sans" font-size="100" font-weight="normal" fill="#1e1e1e" stroke="#1e1e1e" stroke-width="0.6" vector-effect="non-scaling-stroke" stroke-linejoin="round">Elévation</text>
<text transform="translate(1172.29,856.65) scale(0.1581,0.1279)" font-family="Liberation Sans" font-size="100" font-weight="bold" fill="#1e1e1e" stroke="#1e1e1e" stroke-width="0.3" vector-effect="non-scaling-stroke" stroke-linejoin="round">N°</text>
<text transform="translate(1194.84,865.65) scale(0.2687,0.2556)" font-family="Liberation Sans" font-size="100" font-weight="bold" fill="#1e1e1e" stroke="#1e1e1e" stroke-width="0.4" vector-effect="non-scaling-stroke" stroke-linejoin="round">0E5</text>
</g>
</svg></body></html>
